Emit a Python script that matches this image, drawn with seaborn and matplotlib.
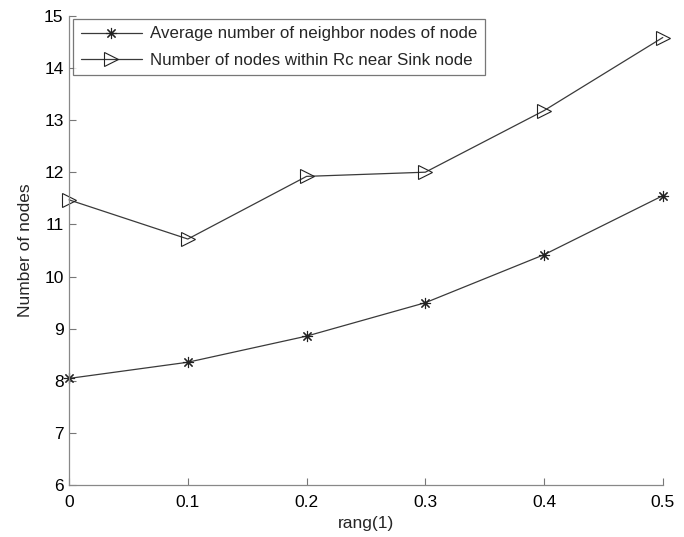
import pandas as pd
import matplotlib
matplotlib.use("Agg")
import matplotlib.pyplot as plt
import seaborn as sns

# values
rang = [0, 0.1, 0.2, 0.3, 0.4, 0.5]
avg_neighbors = [8.05, 8.36, 8.86, 9.50, 10.42, 11.55]
nodes_near_sink = [11.47, 10.72, 11.92, 12.00, 13.18, 14.58]
label_avg = "Average number of neighbor nodes of node"
label_sink = "Number of nodes within Rc near Sink node"

df_avg = pd.DataFrame({"rang": rang, "nodes": avg_neighbors})
df_sink = pd.DataFrame({"rang": rang, "nodes": nodes_near_sink})

sns.set_theme(style="white")
plt.rcParams["font.family"] = ["Liberation Sans", "DejaVu Sans"]

fig = plt.figure(figsize=(6.84, 5.37), dpi=100)
ax = fig.add_axes([0.101, 0.096, 0.868, 0.875])

line_col = "#3a3a3a"
sns.lineplot(data=df_avg, x="rang", y="nodes", color=line_col,
             marker=(8, 2, 0), markersize=8, linewidth=0.9, ax=ax)
sns.lineplot(data=df_sink, x="rang", y="nodes", color=line_col,
             marker=">", markersize=10.5, linewidth=0.9, ax=ax)

# open triangle / thin asterisk like the MATLAB figure
for ln in ax.get_lines():
    ln.set_markerfacecolor("none")
    ln.set_markeredgecolor("#222222")
    ln.set_markeredgewidth(0.8)
    ln.set_clip_on(False)

ax.set_xlim(0, 0.5)
ax.set_ylim(6, 15)
ax.set_xticks(rang)
ax.set_xticklabels(["0", "0.1", "0.2", "0.3", "0.4", "0.5"])
ax.set_yticks(range(6, 16))
ax.tick_params(direction="in", length=5, width=0.8, colors="#777777",
               labelcolor="black", labelsize=12.5, pad=4,
               bottom=True, left=True)
ax.tick_params(axis="x", pad=7)
for s in ["top", "right"]:
    ax.spines[s].set_visible(False)
for s in ["bottom", "left"]:
    ax.spines[s].set_color("#888888")
    ax.spines[s].set_linewidth(0.9)

ax.set_xlabel("rang(1)", fontsize=12.5, labelpad=4)
ax.set_ylabel("Number of nodes", fontsize=12.5, labelpad=8)

leg = ax.legend(ax.get_lines()[:2], [label_avg, label_sink], loc="upper left",
                bbox_to_anchor=(0.007, 0.993), fontsize=12.2, frameon=True,
                fancybox=False, handlelength=3.6, handletextpad=0.5,
                borderpad=0.45, labelspacing=0.65, borderaxespad=0)
leg.get_frame().set_edgecolor("#555555")
leg.get_frame().set_linewidth(0.9)

fig.savefig("out.png", dpi=100)
